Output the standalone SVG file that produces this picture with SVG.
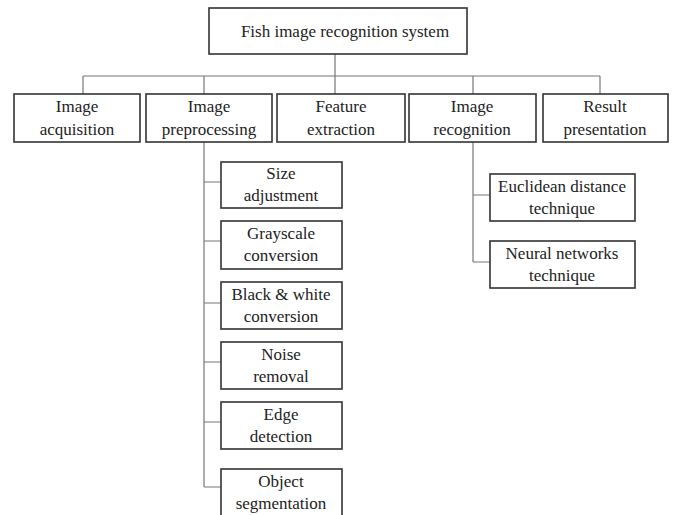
<svg xmlns="http://www.w3.org/2000/svg" width="678" height="515" viewBox="0 0 678 515">
<style>
.box{fill:#fff;stroke:#333;stroke-width:1.6}
.ln{fill:none;stroke:#777;stroke-width:1.2}
text{font-family:"Liberation Serif","Times New Roman",serif;font-size:17px;fill:#222;text-anchor:middle}
</style>
<rect width="678" height="515" fill="#fff"/>
<g id="connectors">
<path class="ln" d="M335 54V76M83 76H600M83 76V94M204 76V94M335 76V94M473 76V94M600 76V94"/>
<path class="ln" d="M204 142V487M204 182H221M204 241H221M204 303H221M204 362H221M204 422H221M204 487H221"/>
<path class="ln" d="M473 142V262M473 195H490M473 262H490"/>
</g>
<g id="root"><rect class="box" x="209" y="8" width="258" height="46"/><text x="345" y="37">Fish image recognition system</text></g>
<g id="acq"><rect class="box" x="14" y="94" width="126" height="48"/><text x="77" y="112">Image</text><text x="77" y="135">acquisition</text></g>
<g id="pre"><rect class="box" x="146" y="94" width="126" height="48"/><text x="209" y="112">Image</text><text x="209" y="135">preprocessing</text></g>
<g id="feat"><rect class="box" x="277" y="94" width="128" height="48"/><text x="341" y="112">Feature</text><text x="341" y="135">extraction</text></g>
<g id="rec"><rect class="box" x="409" y="94" width="127" height="48"/><text x="472" y="112">Image</text><text x="472" y="135">recognition</text></g>
<g id="res"><rect class="box" x="543" y="94" width="125" height="48"/><text x="605" y="112">Result</text><text x="605" y="135">presentation</text></g>
<g id="size"><rect class="box" x="221" y="162" width="121" height="46"/><text x="281" y="179">Size</text><text x="281" y="201">adjustment</text></g>
<g id="gray"><rect class="box" x="221" y="221" width="121" height="48"/><text x="281" y="239">Grayscale</text><text x="281" y="261">conversion</text></g>
<g id="bw"><rect class="box" x="221" y="282" width="121" height="47"/><text x="281" y="300">Black &amp; white</text><text x="281" y="322">conversion</text></g>
<g id="noise"><rect class="box" x="221" y="342" width="121" height="47"/><text x="281" y="360">Noise</text><text x="281" y="382">removal</text></g>
<g id="edge"><rect class="box" x="221" y="402" width="121" height="47"/><text x="281" y="420">Edge</text><text x="281" y="442">detection</text></g>
<g id="obj"><rect class="box" x="221" y="469" width="121" height="50"/><text x="281" y="487">Object</text><text x="281" y="509">segmentation</text></g>
<g id="euc"><rect class="box" x="490" y="174" width="145" height="47"/><text x="562" y="192">Euclidean distance</text><text x="562" y="214">technique</text></g>
<g id="nn"><rect class="box" x="490" y="241" width="145" height="47"/><text x="562" y="259">Neural networks</text><text x="562" y="281">technique</text></g>
</svg>
